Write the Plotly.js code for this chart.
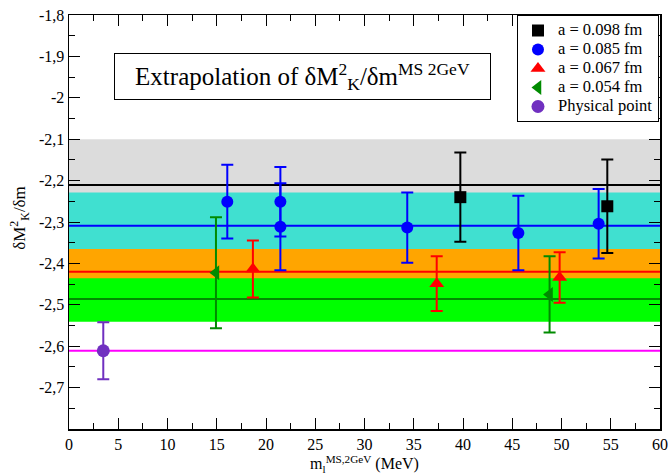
<!DOCTYPE html>
<html>
<head>
<meta charset="utf-8">
<script src="https://cdn.plot.ly/plotly-3.0.1.min.js"></script>
<style>html,body{margin:0;padding:0;background:#fff;}#chart{width:668px;height:476px;}</style>
</head>
<body>
<div id="chart"></div>
<script>
// ---- data ----
const a098X = [39.73, 54.65];
const a098Y = [-2.240, -2.262];
const a098E = [0.108, 0.113];

const a085X = [16.07, 21.46, 21.46, 34.34, 45.62, 53.77];
const a085Y = [-2.251, -2.251, -2.3115, -2.3135, -2.3266, -2.3044];
const a085E = [0.089, 0.084, 0.105, 0.085, 0.090, 0.084];

const a067X = [18.67, 37.33, 49.81];
const a067Y = [-2.4135, -2.449, -2.434];
const a067E = [0.069, 0.066, 0.061];

const a054X = [14.92, 48.79];
const a054Y = [-2.4226, -2.475];
const a054E = [0.134, 0.092];

const physX = [3.48];
const physY = [-2.611];
const physE = [0.069];

const fitLineY = [-2.2105, -2.309, -2.420, -2.486, -2.611];
const bandLo = [-2.32, -2.39, -2.475, -2.541];
const bandHi = [-2.1, -2.229, -2.365, -2.436];

const legendNames = ["a = 0.098 fm", "a = 0.085 fm", "a = 0.067 fm", "a = 0.054 fm", "Physical point"];

const yTickVals = [-2.7, -2.6, -2.5, -2.4, -2.3, -2.2, -2.1, -2.0, -1.9, -1.8];
const yTickText = ["-2,7", "-2,6", "-2,5", "-2,4", "-2,3", "-2,2", "-2,1", "-2", "-1,9", "-1,8"];
const xTickVals = [0, 5, 10, 15, 20, 25, 30, 35, 40, 45, 50, 55, 60];
const xRange = [0, 60];
const yRange = [-2.8, -1.8];

// ---- styles ----
const bandColors = ["#dcdcdc", "#40e0d0", "#ffa500", "#00ff00"];
const lineColors = ["#000000", "#0000ff", "#ff0000", "#008b00", "#ff00ff"];
const serif = "Liberation Serif";

const shapes = bandLo.map((lo, i) => ({
  type: "rect", xref: "x", yref: "y", x0: xRange[0], x1: xRange[1],
  y0: lo, y1: bandHi[i], fillcolor: bandColors[i], line: {width: 0}, layer: "below"
}));

const traces = [];
fitLineY.forEach((v, i) => {
  traces.push({
    x: xRange, y: [v, v], mode: "lines", showlegend: false, hoverinfo: "skip",
    line: {color: lineColors[i], width: 2}
  });
});

function pts(x, y, e, name, color, symbol, size) {
  return {
    x: x, y: y, name: '<span style="font-size:16.5px">' + name + '</span>',
    mode: "markers", type: "scatter",
    marker: {color: color, symbol: symbol, size: size, line: {width: 0}},
    error_y: {type: "data", array: e, visible: true, color: color, thickness: 2, width: 6}
  };
}
traces.push(pts(a098X, a098Y, a098E, legendNames[0], "#000000", "square", 12));
traces.push(pts(a085X, a085Y, a085E, legendNames[1], "#0000ff", "circle", 12));
traces.push(pts(a067X, a067Y, a067E, legendNames[2], "#ff0000", "triangle-up", 13));
traces.push(pts(a054X, a054Y, a054E, legendNames[3], "#008b00", "triangle-left", 13));
traces.push(pts(physX, physY, physE, legendNames[4], "#7030c0", "circle", 13));

const axisCommon = {
  showline: true, linecolor: "#000", linewidth: 1.5, mirror: "ticks",
  ticks: "inside", ticklen: 11, tickwidth: 1, tickcolor: "#000",
  showgrid: false, zeroline: false,
  tickfont: {family: serif, size: 16, color: "#000"}
};

const layout = {
  width: 668, height: 476,
  margin: {l: 69, r: 8, t: 15, b: 47},
  paper_bgcolor: "#fff", plot_bgcolor: "#fff",
  font: {family: serif, color: "#000"},
  showlegend: true,
  legend: {
    x: 0.758, y: 1, xanchor: "left", yanchor: "top",
    bgcolor: "#fff", bordercolor: "#000", borderwidth: 1,
    font: {family: serif, size: 12, color: "#000"},
    tracegroupgap: 0, itemwidth: 30
  },
  xaxis: Object.assign({}, axisCommon, {
    range: xRange, tickvals: xTickVals,
    minor: {dtick: 2.5, ticklen: 6, ticks: "inside", tickcolor: "#000"},
    title: {text: "m<sub>l</sub><sup>MS,2GeV</sup> (MeV)", font: {family: serif, size: 16}, standoff: 3}
  }),
  yaxis: Object.assign({}, axisCommon, {
    range: yRange, tickvals: yTickVals, ticktext: yTickText,
    minor: {dtick: 0.05, ticklen: 6, ticks: "inside", tickcolor: "#000"}
  }),
  shapes: shapes,
  annotations: [
    {
      xref: "paper", yref: "paper", x: -0.083, y: 0.51, xanchor: "center", yanchor: "middle",
      text: "δM<sup>2</sup><sub>K</sub>/δm", textangle: -90, showarrow: false,
      font: {family: serif, size: 17, color: "#000"}
    },
    {
      xref: "x", yref: "y", x: 23.7, y: -1.9486, xanchor: "center", yanchor: "middle",
      text: "Extrapolation of δM<sup>2</sup><sub>K</sub>/δm<sup>MS 2GeV</sup>",
      showarrow: false, bordercolor: "#000", borderwidth: 1, bgcolor: "#fff",
      width: 373, height: 43, align: "center",
      font: {family: serif, size: 25, color: "#000"}
    }
  ]
};

Plotly.newPlot("chart", traces, layout, {displayModeBar: false, staticPlot: true});
</script>
</body>
</html>
